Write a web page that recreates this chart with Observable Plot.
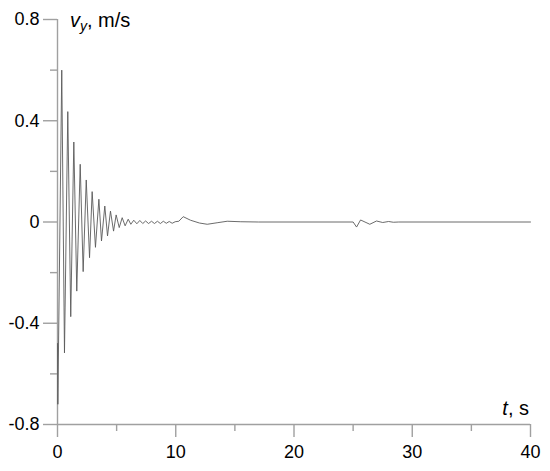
<!DOCTYPE html>
<html>
<head>
<meta charset="utf-8">
<script src="https://cdn.jsdelivr.net/npm/d3@7"></script>
<script src="https://cdn.jsdelivr.net/npm/@observablehq/plot@0.6"></script>
<style>
  html, body { margin: 0; padding: 0; background: #fff; }
  #chart svg { display: block; }
</style>
</head>
<body>
<div id="chart"></div>
<script>
// Time (s) of each extremum / turning point
const tValues = [0, 0.03, 0.36, 0.59, 0.87, 1.12, 1.38, 1.63, 1.92, 2.17, 2.43, 2.71, 2.93, 3.21, 3.50, 3.72,
  4.00, 4.23, 4.48, 4.74, 4.96, 5.22, 5.47, 5.72, 5.98, 6.20, 6.45, 6.71, 6.96, 7.21, 7.45, 7.70, 7.95, 8.20,
  8.45, 8.70, 8.95, 9.20, 9.45, 9.70, 9.95, 10.26, 10.63, 11.25, 12.0, 12.66, 13.5, 14.35, 15.5, 17.0,
  25.0, 25.29, 25.63, 26.41, 26.98, 27.5, 28.0, 28.4, 28.86, 40];
// Velocity v_y (m/s) at those times
const vValues = [-0.48, -0.72, 0.60, -0.517, 0.436, -0.374, 0.316, -0.273, 0.228, -0.196, 0.166, -0.141, 0.120, -0.100, 0.090, -0.075,
  0.063, -0.055, 0.043, -0.036, 0.028, -0.022, 0.017, -0.015, 0.011, -0.009, 0.007, -0.007, 0.006, -0.006, 0.004, -0.006, 0.003, -0.006,
  0.003, -0.006, 0.003, -0.005, 0.002, -0.005, 0.001, 0.003, 0.021, 0.007, -0.004, -0.009, -0.003, 0.003, 0.001, 0,
  0, -0.02, 0.008, -0.009, 0.004, -0.002, 0.002, -0.001, 0, 0];

const xMajorTicks = [0, 10, 20, 30, 40];
const xMinorTicks = [5, 15, 25, 35];
const yMajorTicks = [0.8, 0.4, 0, -0.4, -0.8];
const yMinorTicks = [0.6, 0.2, -0.2, -0.6];

const data = tValues.map((t, i) => ({t, v: vValues[i]}));

const axisGray = "#a0a0a0";
const lineColor = "#5a5a5a";
const font = "Arial, 'Liberation Sans', sans-serif";
const xMin = 0, yMin = -0.8;

const plot = Plot.plot({
  width: 550,
  height: 471,
  marginLeft: 57,
  marginRight: 20,
  marginTop: 19,
  marginBottom: 47,
  style: {fontFamily: font, fontSize: "18px", background: "#fff", color: "#000"},
  x: {domain: [0, 40], axis: null},
  y: {domain: [-0.8, 0.8], axis: null},
  marks: [
    // axis lines
    Plot.ruleX([xMin], {stroke: axisGray, strokeWidth: 1.4}),
    Plot.ruleY([yMin], {stroke: axisGray, strokeWidth: 1.4}),
    // y ticks (outward, to the left)
    Plot.ruleY(yMinorTicks, {y: d => d, x1: xMin, x2: xMin, insetLeft: -7, stroke: axisGray, strokeWidth: 1.4}),
    Plot.ruleY(yMajorTicks, {y: d => d, x1: xMin, x2: xMin, insetLeft: -14, stroke: axisGray, strokeWidth: 1.4}),
    Plot.text(yMajorTicks, {x: xMin, y: d => d, text: d => String(d), dx: -18, textAnchor: "end", fill: "#000", fontSize: 18}),
    // x ticks (outward, downward)
    Plot.ruleX(xMinorTicks, {x: d => d, y1: yMin, y2: yMin, insetBottom: -7, stroke: axisGray, strokeWidth: 1.4}),
    Plot.ruleX(xMajorTicks, {x: d => d, y1: yMin, y2: yMin, insetBottom: -13, stroke: axisGray, strokeWidth: 1.4}),
    Plot.text(xMajorTicks, {x: d => d, y: yMin, text: d => String(d), dy: 21, lineAnchor: "top", fill: "#000", fontSize: 18}),
    // signal
    Plot.line(data, {x: "t", y: "v", stroke: lineColor, strokeWidth: 0.9})
  ]
});

document.getElementById("chart").appendChild(plot);

// Axis titles with italic variable and subscript
const sx = plot.scale("x"), sy = plot.scale("y");
const svg = d3.select(plot);
const yTitle = svg.append("text")
  .attr("x", sx.apply(0) + 13)
  .attr("y", sy.apply(0.8) + 8)
  .attr("text-anchor", "start")
  .attr("font-family", font)
  .attr("font-size", 20)
  .attr("fill", "#000");
yTitle.append("tspan").attr("font-style", "italic").text("v");
yTitle.append("tspan").attr("font-style", "italic").attr("font-size", 14).attr("dy", 4).text("y");
yTitle.append("tspan").attr("dy", -4).text(", m/s");

const xTitle = svg.append("text")
  .attr("x", sx.apply(40) - 1)
  .attr("y", sy.apply(-0.8) - 9)
  .attr("text-anchor", "end")
  .attr("font-family", font)
  .attr("font-size", 20)
  .attr("fill", "#000");
xTitle.append("tspan").attr("font-style", "italic").text("t");
xTitle.append("tspan").text(", s");
</script>
</body>
</html>
